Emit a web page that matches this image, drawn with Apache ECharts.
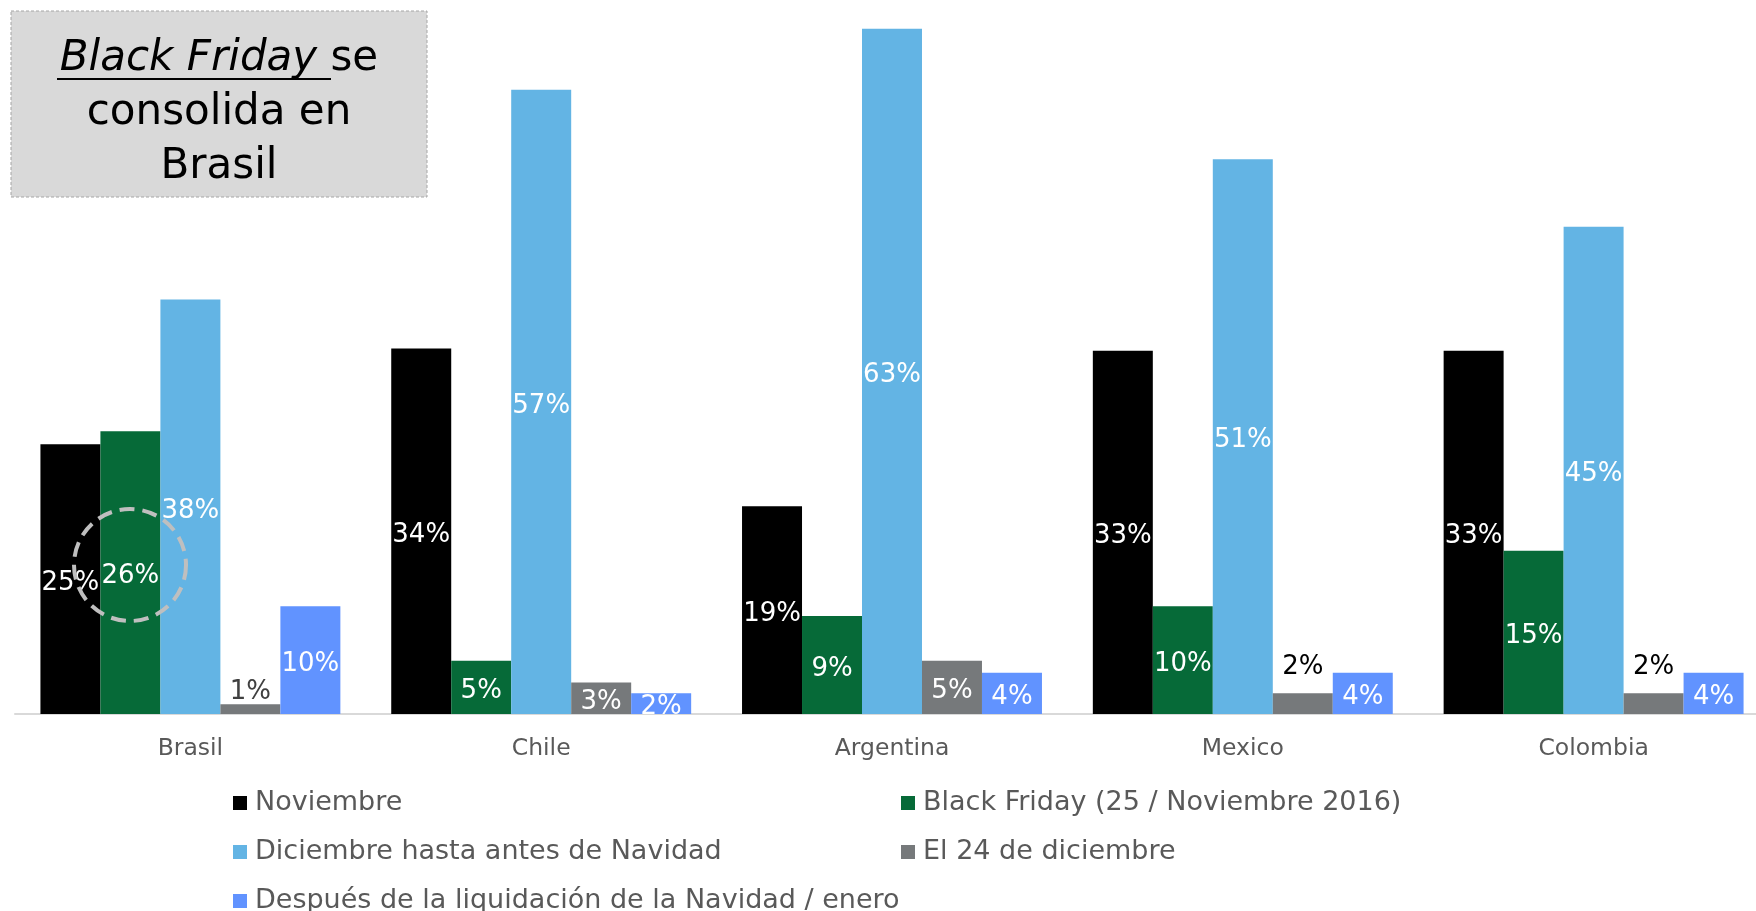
<!DOCTYPE html>
<html>
<head>
<meta charset="utf-8">
<script src="https://cdn.jsdelivr.net/npm/echarts@6/dist/echarts.min.js"></script>
<style>
  html, body { margin: 0; padding: 0; background: #fff; }
  #main { width: 1756px; height: 911px; }
</style>
</head>
<body>
<div id="main"></div>
<script>
let mychart = echarts.init(document.getElementById('main'));

let categories = ['Brasil', 'Chile', 'Argentina', 'Mexico', 'Colombia']
let seriesNames = [
    'Noviembre',
    'Black Friday (25 / Noviembre 2016)',
    'Diciembre hasta antes de Navidad',
    'El 24 de diciembre',
    'Después de la liquidación de la Navidad / enero'
]
// the labels show them rounded
let noviembre = [24.8, 33.6, 19.1, 33.4, 33.4]
let blackFriday = [26, 4.9, 9, 9.9, 15]
let diciembre = [38.1, 57.4, 63, 51, 44.8]
let dia24 = [0.9, 2.9, 4.9, 1.9, 1.9]
let despues = [9.9, 1.9, 3.8, 3.8, 3.8]

let colors = ['#000000', '#066a38', '#63b4e4', '#76797b', '#6193ff']
let font = 'Verdana, "DejaVu Sans", sans-serif'

// labels that Excel put above the little grey bars
function above(v, i) {
    if (i === 0) return { value: v, label: { position: 'top', distance: 1, offset: [0, 2], color: '#404040' } }
    if (i === 3 || i === 4) return { value: v, label: { position: 'top', distance: 14, offset: [0, 1], color: '#000' } }
    return v
}

function bar(name, data, color) {
    return {
        name: name,
        type: 'bar',
        data: data,
        barGap: '0%',
        barCategoryGap: '14.5%',
        itemStyle: { color: color },
        label: {
            show: true,
            position: 'inside',
            offset: [0, 4],
            formatter: p => Math.round(p.value) + '%',
            color: '#fff',
            fontSize: 26,
            fontFamily: font
        }
    }
}

let legendText = { color: '#595959', fontSize: 27, fontFamily: font, lineHeight: 30, padding: [0, 0, 0, 3] }

let option = {
    backgroundColor: '#fff',
    animation: false,
    grid: {
        left: 15,
        top: 7,
        width: 1754,
        bottom: 197,
        outerBoundsMode: 'none',
        containLabel: false
    },
    xAxis: {
        type: 'category',
        data: categories,
        axisTick: { show: false },
        axisLine: { lineStyle: { color: '#d9d9d9', width: 2 } },
        axisLabel: { color: '#595959', fontSize: 23.5, fontFamily: font, margin: 23 }
    },
    yAxis: {
        type: 'value',
        min: 0,
        max: 65,
        show: false,
        splitLine: { show: false }
    },
    legend: [{
        data: [seriesNames[0], seriesNames[2], seriesNames[4]],
        orient: 'vertical',
        left: 233,
        top: 788,
        padding: 0,
        height: 200,
        itemWidth: 14,
        itemHeight: 14,
        itemGap: 19,
        icon: 'rect',
        selectedMode: false,
        textStyle: legendText
    }, {
        data: [seriesNames[1], seriesNames[3]],
        orient: 'vertical',
        left: 901,
        top: 788,
        padding: 0,
        height: 200,
        itemWidth: 14,
        itemHeight: 14,
        itemGap: 19,
        icon: 'rect',
        selectedMode: false,
        textStyle: legendText
    }],
    series: [
        bar(seriesNames[0], noviembre, colors[0]),
        bar(seriesNames[1], blackFriday, colors[1]),
        bar(seriesNames[2], diciembre, colors[2]),
        bar(seriesNames[3], dia24.map(above), colors[3]),
        bar(seriesNames[4], despues, colors[4])
    ],
    graphic: [{
        type: 'rect',
        shape: { x: 11, y: 11, width: 416, height: 186 },
        style: { fill: '#d9d9d9', stroke: '#a6a6a6', lineWidth: 1, lineDash: [3, 2] },
        z: 10
    }, {
        type: 'text',
        style: {
            x: 219,
            y: 113,
            align: 'center',
            verticalAlign: 'middle',
            text: '{i|Black Friday }{n|se}\n{n|consolida en}\n{n|Brasil}',
            rich: {
                i: { fontSize: 42, fontStyle: 'italic', fontFamily: font, color: '#000', lineHeight: 54 },
                n: { fontSize: 42, fontFamily: font, color: '#000', lineHeight: 54 }
            }
        },
        z: 11
    }, {
        type: 'line',
        shape: { x1: 57, y1: 79, x2: 331, y2: 79 },
        style: { stroke: '#000', lineWidth: 2 },
        z: 11
    }, {
        type: 'circle',
        shape: { cx: 130, cy: 565, r: 56 },
        style: { fill: 'none', stroke: '#bfbfbf', lineWidth: 4, lineDash: [15, 8] },
        z: 20
    }]
};
mychart.setOption(option);
</script>
</body>
</html>
